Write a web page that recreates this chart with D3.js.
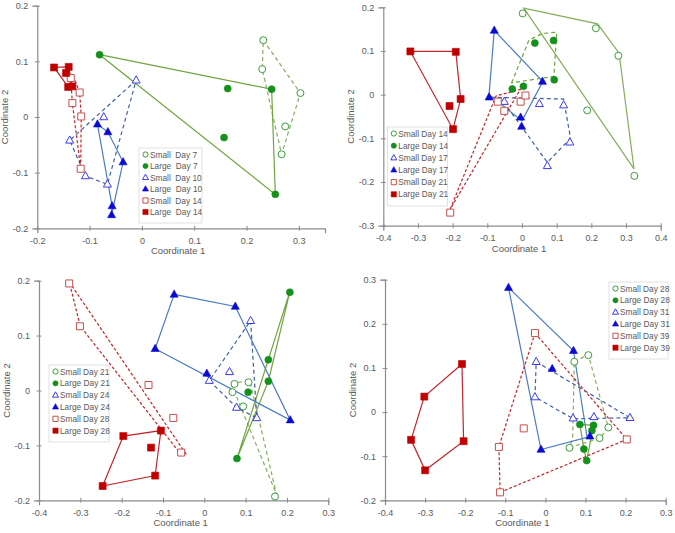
<!DOCTYPE html>
<html>
<head>
<meta charset="utf-8">
<script src="https://cdn.jsdelivr.net/npm/d3@7"></script>
<style>
  body { margin: 0; background: #fff; }
  svg text { font-family: "Liberation Sans", Arial, sans-serif; fill: #595959; }
</style>
</head>
<body>
<div id="chart"></div>
<script>
// --- Data (Coordinate 1, Coordinate 2) ---
// Panel A: days 7 / 10 / 14
const aSmall7 = [[0.232, 0.138], [0.230, 0.086], [0.303, 0.043], [0.274, -0.017], [0.267, -0.067]];
const aSmall7Hull = [[0.232, 0.138], [0.303, 0.043], [0.267, -0.067], [0.230, 0.086]];
const aLarge7 = [[-0.081, 0.112], [0.164, 0.051], [0.157, -0.037], [0.248, 0.050], [0.255, -0.139]];
const aLarge7Hull = [[-0.081, 0.112], [0.248, 0.050], [0.255, -0.139]];
const aSmall10 = [[-0.011, 0.066], [-0.073, 0.000], [-0.138, -0.042], [-0.108, -0.106], [-0.066, -0.121]];
const aSmall10Hull = [[-0.011, 0.066], [-0.138, -0.042], [-0.108, -0.106], [-0.066, -0.121]];
const aLarge10 = [[-0.085, -0.013], [-0.065, -0.027], [-0.036, -0.081], [-0.057, -0.160], [-0.058, -0.176]];
const aLarge10Hull = [[-0.085, -0.013], [-0.065, -0.027], [-0.036, -0.081], [-0.058, -0.176], [-0.057, -0.160]];
const aSmall14 = [[-0.136, 0.070], [-0.119, 0.044], [-0.133, 0.025], [-0.116, 0.001], [-0.117, -0.093]];
const aSmall14Hull = [[-0.136, 0.070], [-0.128, 0.066], [-0.119, 0.044], [-0.116, 0.001], [-0.117, -0.093], [-0.133, 0.025]];
const aLarge14 = [[-0.168, 0.089], [-0.145, 0.079], [-0.140, 0.090], [-0.141, 0.054], [-0.133, 0.055]];
const aLarge14Hull = [[-0.168, 0.089], [-0.140, 0.090], [-0.133, 0.055], [-0.141, 0.054]];

// Panel B: days 14 / 17 / 21
const bSmall14 = [[0.002, 0.186], [0.213, 0.152], [0.278, 0.089], [0.188, -0.036], [0.324, -0.186]];
const bSmall14Hull = [[0.005, 0.198], [0.218, 0.162], [0.280, 0.095], [0.323, -0.170]];
const bLarge14 = [[0.037, 0.118], [0.091, 0.124], [-0.028, 0.013], [0.004, 0.019], [0.093, 0.034]];
const bLarge14Hull = [[-0.030, 0.027], [0.020, 0.125], [0.060, 0.140], [0.100, 0.143], [0.092, 0.042]];
const bSmall17 = [[-0.051, -0.016], [0.050, -0.021], [0.120, -0.024], [0.138, -0.109], [0.073, -0.163]];
const bSmall17Hull = [[-0.090, -0.006], [0.120, -0.010], [0.140, -0.100], [0.073, -0.155], [-0.050, -0.020]];
const bLarge17 = [[-0.080, 0.147], [-0.095, -0.006], [0.059, 0.030], [-0.004, -0.052], [-0.001, -0.073]];
const bLarge17Hull = [[-0.080, 0.147], [0.060, 0.030], [0.000, -0.060], [-0.095, 0.000]];
const bSmall21 = [[-0.070, -0.016], [-0.051, -0.037], [-0.004, -0.016], [0.010, -0.002], [-0.207, -0.270]];
const bSmall21Hull = [[-0.207, -0.262], [-0.075, -0.003], [-0.005, 0.012]];
const bLarge21 = [[-0.322, 0.099], [-0.191, 0.098], [-0.177, -0.010], [-0.209, -0.026], [-0.199, -0.079]];
const bLarge21Hull = [[-0.322, 0.099], [-0.191, 0.099], [-0.177, -0.010], [-0.199, -0.079]];

// Panel C: days 21 / 24 / 28
const cSmall21 = [[0.073, 0.012], [0.107, 0.015], [0.068, -0.003], [0.094, -0.029], [0.171, -0.193]];
const cSmall21Hull = [[0.065, 0.013], [0.110, 0.018], [0.175, -0.190]];
const cLarge21 = [[0.207, 0.179], [0.155, 0.056], [0.155, 0.017], [0.106, -0.003], [0.079, -0.124]];
const cLarge21Hull = [[0.207, 0.180], [0.155, 0.017], [0.079, -0.124]];
const cSmall24 = [[0.112, 0.127], [0.061, 0.034], [0.012, 0.018], [0.078, -0.031], [0.127, -0.050]];
const cSmall24Hull = [[0.112, 0.127], [0.127, -0.050], [0.078, -0.031], [0.012, 0.018]];
const cLarge24 = [[-0.073, 0.175], [0.075, 0.153], [-0.119, 0.076], [0.006, 0.031], [0.208, -0.054]];
const cLarge24Hull = [[-0.073, 0.175], [0.075, 0.153], [0.208, -0.054], [-0.119, 0.076]];
const cSmall28 = [[-0.327, 0.195], [-0.301, 0.117], [-0.135, 0.010], [-0.075, -0.050], [-0.056, -0.113]];
const cSmall28Hull = [[-0.327, 0.198], [-0.045, -0.115], [-0.060, -0.113], [-0.300, 0.117]];
const cLarge28 = [[-0.196, -0.083], [-0.105, -0.073], [-0.129, -0.104], [-0.119, -0.155], [-0.246, -0.174]];
const cLarge28Hull = [[-0.196, -0.083], [-0.105, -0.073], [-0.119, -0.155], [-0.246, -0.174]];

// Panel D: days 28 / 31 / 39
const dSmall28 = [[0.107, 0.129], [0.072, 0.114], [0.157, -0.035], [0.135, -0.059], [0.060, -0.081]];
const dSmall28Hull = [[0.072, 0.114], [0.107, 0.130], [0.157, -0.035], [0.135, -0.060], [0.060, -0.080], [0.068, -0.060]];
const dLarge28 = [[0.086, -0.028], [0.120, -0.030], [0.116, -0.042], [0.096, -0.084], [0.103, -0.110]];
const dLarge28Hull = [[0.086, -0.028], [0.120, -0.030], [0.103, -0.110], [0.096, -0.084]];
const dSmall31 = [[-0.023, 0.114], [-0.026, 0.034], [0.069, -0.014], [0.121, -0.011], [0.211, -0.013]];
const dSmall31Hull = [[-0.023, 0.114], [0.211, -0.013], [0.069, -0.015], [-0.026, 0.034]];
const dLarge31 = [[-0.092, 0.282], [0.070, 0.139], [0.017, 0.098], [0.111, -0.055], [-0.011, -0.085]];
const dLarge31Hull = [[-0.092, 0.282], [0.070, 0.139], [0.104, -0.057], [-0.011, -0.085]];
const dSmall39 = [[-0.026, 0.179], [-0.054, -0.037], [-0.116, -0.079], [-0.113, -0.182], [0.203, -0.062]];
const dSmall39Hull = [[-0.026, 0.179], [0.203, -0.062], [-0.113, -0.182], [-0.116, -0.079]];
const dLarge39 = [[-0.208, 0.109], [-0.302, 0.035], [-0.335, -0.063], [-0.204, -0.066], [-0.300, -0.132]];
const dLarge39Hull = [[-0.208, 0.109], [-0.302, 0.035], [-0.335, -0.063], [-0.300, -0.132], [-0.204, -0.066]];

// Axis ticks
const ticksAX = [-0.2, -0.1, 0, 0.1, 0.2, 0.3];
const ticksAY = [-0.2, -0.1, 0, 0.1, 0.2];
const ticksBX = [-0.4, -0.3, -0.2, -0.1, 0, 0.1, 0.2, 0.3, 0.4];
const ticksBY = [-0.3, -0.2, -0.1, 0, 0.1, 0.2];
const ticksCX = [-0.4, -0.3, -0.2, -0.1, 0, 0.1, 0.2, 0.3];
const ticksCY = [-0.2, -0.1, 0, 0.1, 0.2];
const ticksDX = [-0.4, -0.3, -0.2, -0.1, 0, 0.1, 0.2, 0.3];
const ticksDY = [-0.2, -0.1, 0, 0.1, 0.2, 0.3];

// Days shown in each panel
const daysA = [7, 10, 14];
const daysB = [14, 17, 21];
const daysC = [21, 24, 28];
const daysD = [28, 31, 39];

// --- Styles: one per series slot (small/large x three days) ---
const slots = [
  { size: "Small", shape: "circle",   open: true,  mark: "#3a9d3a", line: "#86ad5e", dash: "4,3" },
  { size: "Large", shape: "circle",   open: false, mark: "#14901c", line: "#70a43e", dash: null },
  { size: "Small", shape: "triangle", open: true,  mark: "#3b3be6", line: "#41609e", dash: "4,3" },
  { size: "Large", shape: "triangle", open: false, mark: "#0a0ad4", line: "#4a7cc0", dash: null },
  { size: "Small", shape: "square",   open: true,  mark: "#c4504d", line: "#c0262c", dash: "3,2" },
  { size: "Large", shape: "square",   open: false, mark: "#c00000", line: "#c0262c", dash: null }
];

const panels = [
  { box: { l: 37.3, r: 325, t: 5.7, b: 228.3 }, x: [-0.2, 0.35], y: [-0.2, 0.2], tx: ticksAX, ty: ticksAY, days: daysA,
    legend: { x: 139, y: 148, w: 63, h: 75 }, gap: "  ",
    groups: [[aSmall7, aSmall7Hull], [aLarge7, aLarge7Hull], [aSmall10, aSmall10Hull], [aLarge10, aLarge10Hull], [aSmall14, aSmall14Hull], [aLarge14, aLarge14Hull]] },
  { box: { l: 383.3, r: 660.7, t: 7.3, b: 225.7 }, x: [-0.4, 0.4], y: [-0.3, 0.2], tx: ticksBX, ty: ticksBY, days: daysB,
    legend: { x: 387.3, y: 127, w: 60, h: 79 }, gap: " ", swapGreen: true,
    groups: [[bSmall14, bSmall14Hull], [bLarge14, bLarge14Hull], [bSmall17, bSmall17Hull], [bLarge17, bLarge17Hull], [bSmall21, bSmall21Hull], [bLarge21, bLarge21Hull]] },
  { box: { l: 39, r: 328.3, t: 280.7, b: 500.3 }, x: [-0.4, 0.3], y: [-0.2, 0.2], tx: ticksCX, ty: ticksCY, days: daysC,
    legend: { x: 49, y: 365, w: 60, h: 77 }, gap: " ",
    groups: [[cSmall21, cSmall21Hull], [cLarge21, cLarge21Hull], [cSmall24, cSmall24Hull], [cLarge24, cLarge24Hull], [cSmall28, cSmall28Hull], [cLarge28, cLarge28Hull]] },
  { box: { l: 385, r: 665.7, t: 279.7, b: 500.3 }, x: [-0.4, 0.3], y: [-0.2, 0.3], tx: ticksDX, ty: ticksDY, days: daysD,
    legend: { x: 609, y: 282, w: 59, h: 77 }, gap: " ",
    groups: [[dSmall28, dSmall28Hull], [dLarge28, dLarge28Hull], [dSmall31, dSmall31Hull], [dLarge31, dLarge31Hull], [dSmall39, dSmall39Hull], [dLarge39, dLarge39Hull]] }
];

const W = 675, H = 533;
const svg = d3.select("#chart").append("svg").attr("width", W).attr("height", H);

function fmt(d) { return d === 0 ? "0" : String(d); }

function markerPath(shape, s) {
  if (shape === "triangle") {
    const h = s * 0.9;
    return `M0,${-h * 0.62}L${s / 2},${h * 0.38}L${-s / 2},${h * 0.38}Z`;
  }
  if (shape === "square") return `M${-s / 2},${-s / 2}h${s}v${s}h${-s}Z`;
  return null;
}

function drawMarker(g, slot, px, py, s) {
  const p = slot.open
    ? { fill: "#fff", stroke: slot.mark, sw: 1 }
    : { fill: slot.mark, stroke: slot.mark, sw: 0.6 };
  let el;
  if (slot.shape === "circle") {
    el = g.append("circle").attr("cx", px).attr("cy", py).attr("r", s / 2);
  } else {
    el = g.append("path").attr("d", markerPath(slot.shape, s)).attr("transform", `translate(${px},${py})`);
  }
  el.attr("fill", p.fill).attr("stroke", p.stroke).attr("stroke-width", p.sw);
}

panels.forEach(pn => {
  const x = d3.scaleLinear().domain(pn.x).range([pn.box.l, pn.box.r]);
  const y = d3.scaleLinear().domain(pn.y).range([pn.box.b, pn.box.t]);
  const g = svg.append("g");

  // axes: gray line, small ticks that cross the line
  const xa = g.append("g").attr("transform", `translate(0,${pn.box.b})`)
    .call(d3.axisBottom(x).tickValues(pn.tx).tickFormat(fmt).tickSize(5).tickPadding(4));
  const ya = g.append("g").attr("transform", `translate(${pn.box.l},0)`)
    .call(d3.axisLeft(y).tickValues(pn.ty).tickFormat(fmt).tickSize(5).tickPadding(4));
  xa.selectAll(".tick line").attr("y1", -2.5).attr("y2", 2.5);
  ya.selectAll(".tick line").attr("x1", -2.5).attr("x2", 2.5);
  [xa, ya].forEach(a => {
    a.select(".domain").attr("stroke", "#8c8c8c").attr("stroke-width", 1.2);
    a.selectAll(".tick line").attr("stroke", "#8c8c8c");
    a.selectAll("text").attr("font-size", 9).style("fill", "#595959")
      .attr("font-family", "'Liberation Sans', Arial, sans-serif");
  });

  g.append("text")
    .attr("x", (pn.box.l + pn.box.r) / 2 - 3).attr("y", pn.box.b + 26)
    .attr("text-anchor", "middle").attr("font-size", 9.5).text("Coordinate 1");
  g.append("text")
    .attr("transform", `translate(${pn.box.l - 29},${(pn.box.t + pn.box.b) / 2}) rotate(-90)`)
    .attr("text-anchor", "middle").attr("font-size", 9.5).text("Coordinate 2");

  // hulls
  const line = d3.line().x(d => x(d[0])).y(d => y(d[1])).curve(d3.curveLinearClosed);
  pn.groups.forEach((grp, i) => {
    const slot = slots[i];
    let dash = slot.dash;
    if (pn.swapGreen && i < 2) dash = i === 0 ? null : "4,3";
    g.append("path").attr("d", line(grp[1]))
      .attr("fill", "none").attr("stroke", slot.line).attr("stroke-width", 1.2)
      .attr("stroke-dasharray", dash);
  });

  // points
  pn.groups.forEach((grp, i) => {
    const slot = slots[i];
    const s = slot.shape === "circle" ? 7 : (slot.shape === "triangle" ? 8 : 7);
    grp[0].forEach(d => drawMarker(g, slot, x(d[0]), y(d[1]), s));
  });

  // legend
  const lg = g.append("g").attr("transform", `translate(${pn.legend.x},${pn.legend.y})`);
  lg.append("rect").attr("width", pn.legend.w).attr("height", pn.legend.h)
    .attr("fill", "#fff").attr("stroke", "#d9d9d9").attr("stroke-width", 0.8);
  const rowH = (pn.legend.h - 6) / 6;
  slots.forEach((slot, i) => {
    const cy = 6.5 + i * rowH;
    drawMarker(lg, slot, 6.5, cy, slot.shape === "triangle" ? 6 : 5.2);
    lg.append("text").attr("x", 11).attr("y", cy + 3).attr("font-size", 8.3)
      .style("white-space", "pre")
      .text(`${slot.size}${pn.gap}Day ${pn.days[Math.floor(i / 2)]}`);
  });
});
</script>
</body>
</html>
